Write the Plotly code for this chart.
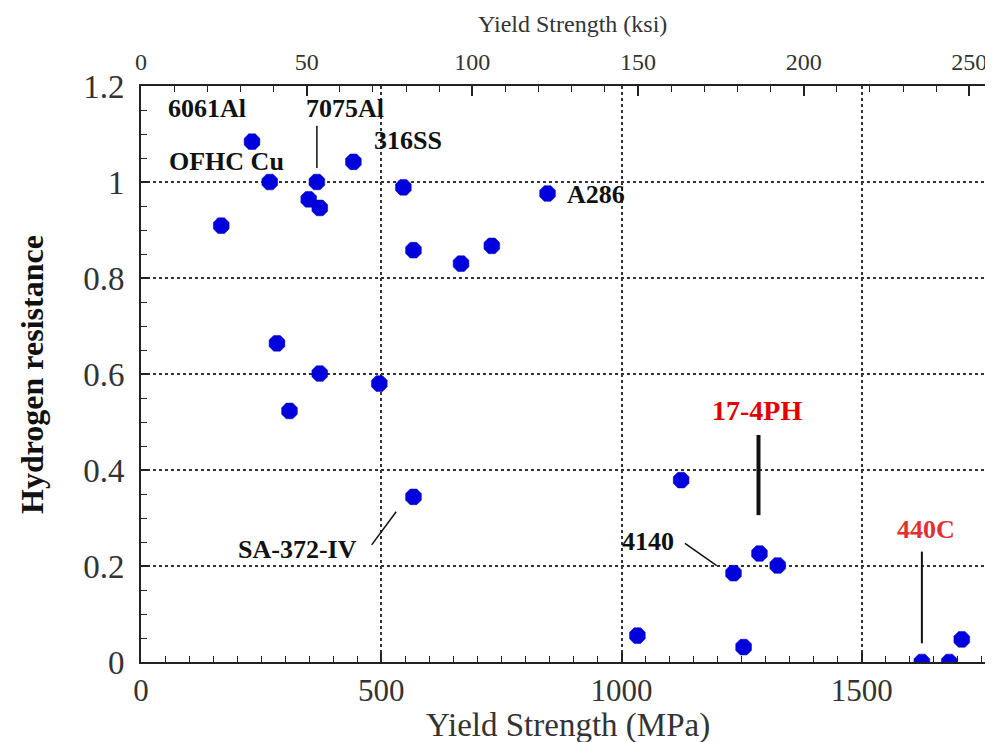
import plotly.graph_objects as go

# Data: yield strength (MPa) and hydrogen resistance
yield_mpa = [231, 268, 366, 442, 349, 372, 167, 546, 846, 567, 666, 730,
             283, 372, 496, 309, 567,
             1124, 1233, 1287, 1325, 1033, 1254, 1625, 1682, 1708]
h_resist = [1.084, 1.0, 1.0, 1.042, 0.964, 0.946, 0.909, 0.989, 0.976, 0.858, 0.830, 0.867,
            0.664, 0.601, 0.58, 0.523, 0.344,
            0.379, 0.185, 0.226, 0.201, 0.055, 0.031, 0.0, 0.0, 0.047]

MPA_PER_KSI = 6.895
X_MAX = 1773

# Labels: text, x (MPa), y, color, size, anchor
labels = [
    ("6061Al", 138, 1.154, "#111111", 26, "center"),
    ("7075Al", 425, 1.154, "#111111", 26, "center"),
    ("OFHC Cu", 177, 1.042, "#111111", 26, "center"),
    ("316SS", 556, 1.0875, "#111111", 26, "center"),
    ("A286", 883, 0.973, "#111111", 26, "left"),
    ("17-4PH", 1282, 0.523, "#e00000", 28, "center"),
    ("4140", 1055, 0.252, "#111111", 26, "center"),
    ("SA-372-IV", 325, 0.235, "#111111", 26, "center"),
    ("440C", 1634, 0.277, "#e03030", 26, "center"),
]

# Leader lines: x0, y0, x1, y1, width
leaders = [
    (366, 1.117, 366, 1.029, 1.5),
    (1285, 0.473, 1285, 0.306, 4),
    (1132, 0.247, 1198, 0.2006, 1.5),
    (1625, 0.230, 1625, 0.039, 2),
    (480, 0.244, 531, 0.313, 1.5),
]

FONT = "Liberation Serif, Times New Roman, serif"

fig = go.Figure()
fig.add_trace(go.Scatter(
    x=yield_mpa, y=h_resist, mode="markers",
    marker=dict(symbol="octagon", size=17, color="#0000dd",
                line=dict(width=0.5, color="#0000aa")),
    showlegend=False, hoverinfo="x+y",
))
# invisible trace to anchor top ksi axis
fig.add_trace(go.Scatter(x=[0, X_MAX / MPA_PER_KSI], y=[None, None], xaxis="x2",
                         mode="markers", showlegend=False, hoverinfo="skip"))

for text, x, y, color, size, anchor in labels:
    fig.add_annotation(x=x, y=y, xref="x", yref="y", text="<b>%s</b>" % text,
                       showarrow=False, xanchor=anchor, yanchor="middle",
                       font=dict(family=FONT, size=size, color=color))

for x0, y0, x1, y1, w in leaders:
    fig.add_shape(type="line", x0=x0, y0=y0, x1=x1, y1=y1, xref="x", yref="y",
                  line=dict(color="#111111", width=w))

# Axis titles as annotations (paper coords)
fig.add_annotation(x=0.501, y=-0.11, xref="paper", yref="paper", text="Yield Strength (MPa)",
                   showarrow=False, xanchor="center", yanchor="middle",
                   font=dict(family=FONT, size=33, color="#333333"))
fig.add_annotation(x=0.506, y=1.108, xref="paper", yref="paper", text="Yield Strength (ksi)",
                   showarrow=False, xanchor="center", yanchor="middle",
                   font=dict(family=FONT, size=24, color="#333333"))
fig.add_annotation(x=-0.128, y=0.5, xref="paper", yref="paper", text="<b>Hydrogen resistance</b>",
                   showarrow=False, xanchor="center", yanchor="middle", textangle=-90,
                   font=dict(family=FONT, size=32, color="#111111"))

# page body has an 8px margin, so the figure is offset by 8px
fig.update_layout(
    width=985, height=734,
    margin=dict(l=133, r=0, t=78, b=80, autoexpand=False),
    paper_bgcolor="white", plot_bgcolor="white",
    font=dict(family=FONT, color="#222222"),
    xaxis=dict(
        range=[0, X_MAX], dtick=500, tick0=0, automargin=False,
        showline=True, linecolor="#222222", linewidth=2,
        ticks="inside", ticklen=9, tickwidth=1.5, tickcolor="#222222",
        minor=dict(dtick=50, ticks="inside", ticklen=6, tickwidth=1.2,
                   tickcolor="#222222", showgrid=False),
        showgrid=True, gridcolor="#333333", gridwidth=1.5, griddash="dot",
        zeroline=False, ticklabelstandoff=0,
        tickfont=dict(family=FONT, size=31, color="#333333"),
    ),
    xaxis2=dict(
        range=[0, X_MAX / MPA_PER_KSI], dtick=50, tick0=0, automargin=False,
        overlaying="x", side="top",
        showline=True, linecolor="#222222", linewidth=2,
        ticks="inside", ticklen=10, tickwidth=1.5, tickcolor="#222222",
        minor=dict(dtick=10, ticks="inside", ticklen=6, tickwidth=1.2,
                   tickcolor="#222222", showgrid=False),
        showgrid=False, zeroline=False, ticklabelstandoff=4,
        tickfont=dict(family=FONT, size=24, color="#333333"),
    ),
    yaxis=dict(
        range=[0, 1.2], dtick=0.2, tick0=0, automargin=False,
        showline=True, linecolor="#222222", linewidth=2,
        ticks="inside", ticklen=9, tickwidth=1.5, tickcolor="#222222",
        minor=dict(dtick=0.05, ticks="inside", ticklen=6, tickwidth=1.2,
                   tickcolor="#222222", showgrid=False),
        showgrid=True, gridcolor="#333333", gridwidth=1.5, griddash="dot",
        zeroline=False, ticklabelstandoff=8,
        tickfont=dict(family=FONT, size=33, color="#333333"),
    ),
)

fig.write_html("out.html")
